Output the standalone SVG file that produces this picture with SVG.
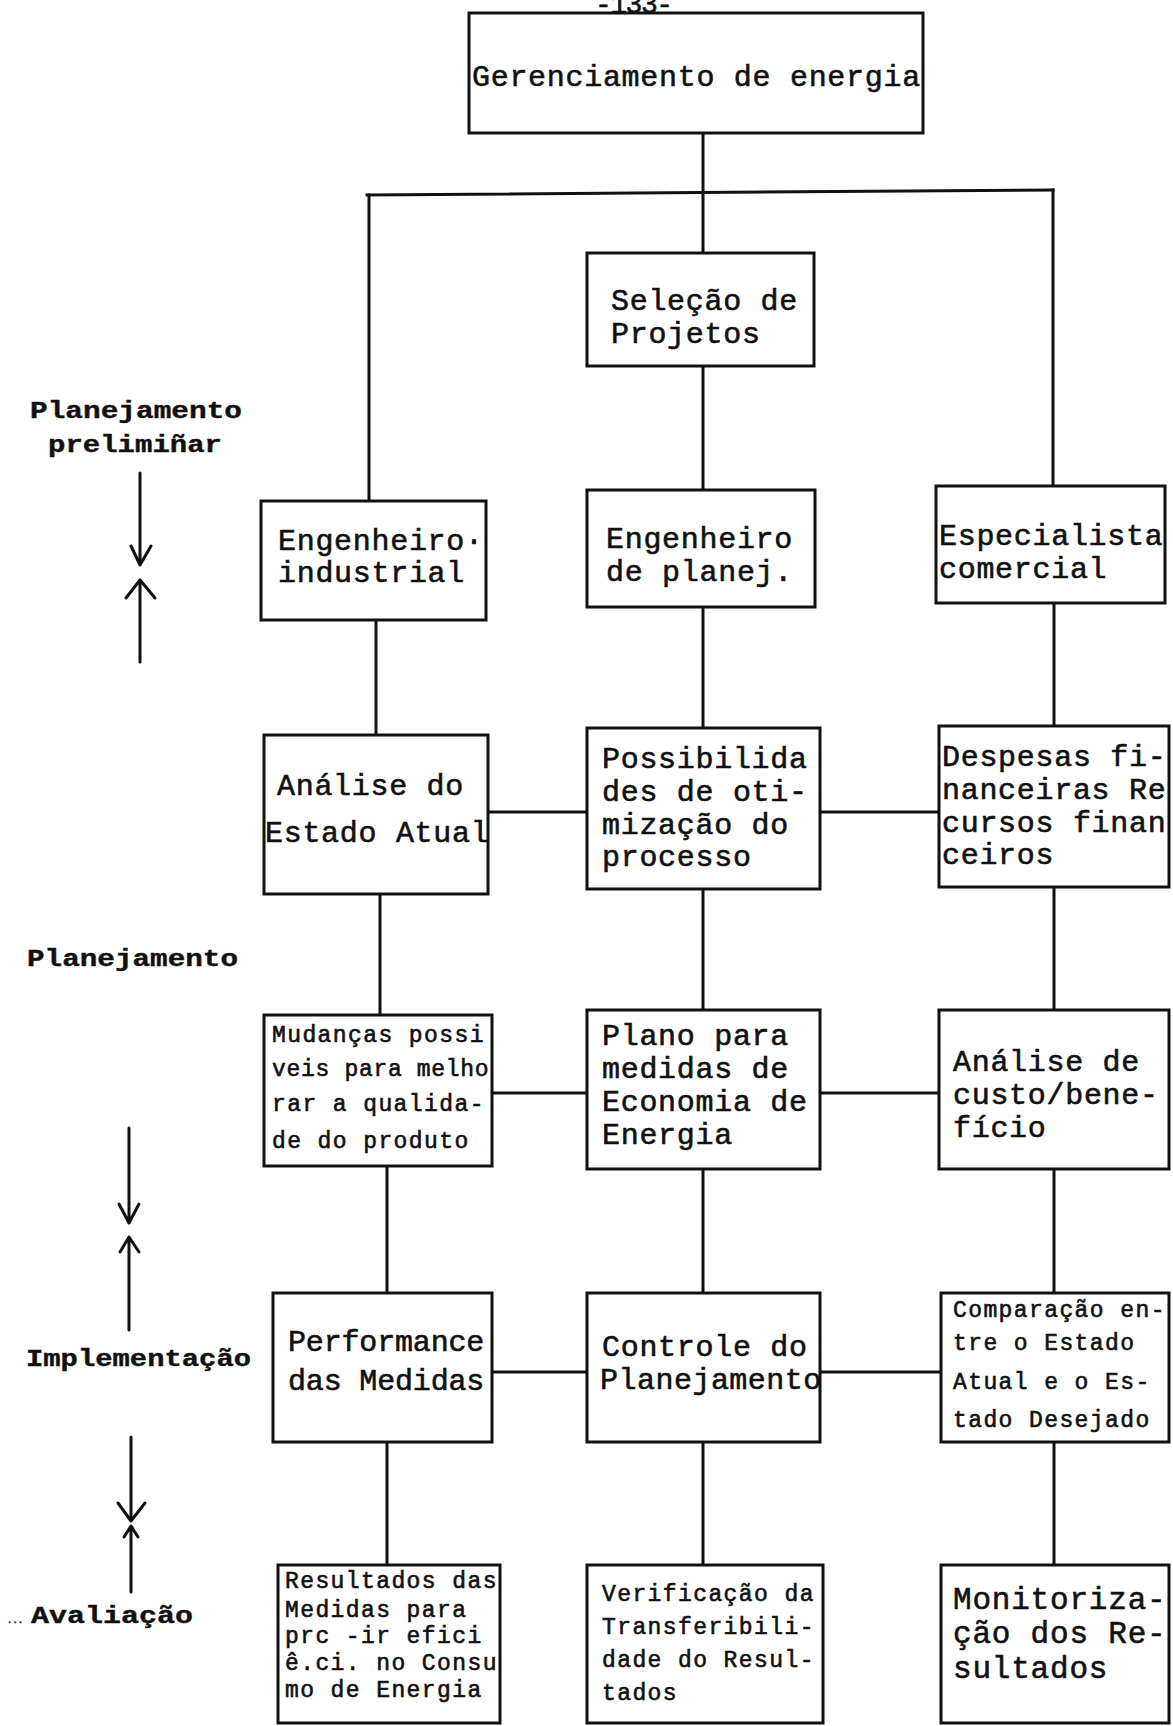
<svg xmlns="http://www.w3.org/2000/svg" width="1173" height="1726" viewBox="0 0 1173 1726">
  <style>
    .box { fill: #fff; stroke: #111; stroke-width: 3; }
    .wire { stroke: #111; stroke-width: 3; fill: none; stroke-linecap: square; }
    .arr { stroke: #111; stroke-width: 3; fill: none; stroke-linecap: round; stroke-linejoin: round; }
    .t { font-family: "Liberation Mono", "DejaVu Sans Mono", monospace; fill: #111; stroke: #111; stroke-width: 0.6px; }
    .big { font-size: 30px; letter-spacing: 0.7px; }
    .mid { font-size: 31px; letter-spacing: 0.8px; }
    .small { font-size: 23px; letter-spacing: 1.4px; }
    .lab { font-family: "Liberation Mono", "DejaVu Sans Mono", monospace; font-weight: bold; font-size: 23px; fill: #111; stroke: #111; stroke-width: 0.4px; }
  </style>
  <rect width="1173" height="1726" fill="#fff"/>

  <!-- page number -->
  <text class="t" x="595" y="13" font-size="28" textLength="78">-133-</text>

  <!-- connectors -->
  <g id="connectors">
    <path class="wire" d="M703 133 V193"/>
    <path class="wire" d="M367 195 L1053 190"/>
    <path class="wire" d="M369 195 V501"/>
    <path class="wire" d="M703 193 V253"/>
    <path class="wire" d="M703 366 V490"/>
    <path class="wire" d="M1053 190 V486"/>

    <path class="wire" d="M376 620 V735"/>
    <path class="wire" d="M703 607 V728"/>
    <path class="wire" d="M1054 603 V726"/>

    <path class="wire" d="M380 894 V1015"/>
    <path class="wire" d="M703 889 V1010"/>
    <path class="wire" d="M1054 887 V1010"/>

    <path class="wire" d="M387 1166 V1293"/>
    <path class="wire" d="M703 1169 V1293"/>
    <path class="wire" d="M1054 1169 V1293"/>

    <path class="wire" d="M387 1442 V1565"/>
    <path class="wire" d="M703 1442 V1565"/>
    <path class="wire" d="M1054 1442 V1565"/>

    <path class="wire" d="M488 812 H587 M820 812 H939"/>
    <path class="wire" d="M492 1093 H587 M820 1093 H939"/>
    <path class="wire" d="M492 1372 H587 M820 1372 H941"/>
  </g>

  <!-- nodes -->
  <g id="gerenciamento">
    <rect class="box" x="469" y="13" width="454" height="120"/>
    <text class="t big" x="472" y="86">Gerenciamento de energia</text>
  </g>
  <g id="selecao">
    <rect class="box" x="587" y="253" width="227" height="113"/>
    <text class="t big" x="611" y="310">Seleção de</text>
    <text class="t big" x="611" y="343">Projetos</text>
  </g>

  <g id="eng-industrial">
    <rect class="box" x="261" y="501" width="225" height="119"/>
    <text class="t big" x="278" y="550">Engenheiro·</text>
    <text class="t big" x="278" y="582">industrial</text>
  </g>
  <g id="eng-planej">
    <rect class="box" x="587" y="490" width="228" height="117"/>
    <text class="t big" x="606" y="548">Engenheiro</text>
    <text class="t big" x="606" y="581">de planej.</text>
  </g>
  <g id="especialista">
    <rect class="box" x="936" y="486" width="229" height="117"/>
    <text class="t big" x="939" y="545">Especialista</text>
    <text class="t big" x="939" y="578">comercial</text>
  </g>

  <g id="analise-estado">
    <rect class="box" x="264" y="735" width="224" height="159"/>
    <text class="t big" x="277" y="795">Análise do</text>
    <text class="t big" x="265" y="842">Estado Atual</text>
  </g>
  <g id="possibilidades">
    <rect class="box" x="587" y="728" width="233" height="161"/>
    <text class="t big" x="602" y="768">Possibilida</text>
    <text class="t big" x="602" y="801">des de oti-</text>
    <text class="t big" x="602" y="834">mização do</text>
    <text class="t big" x="602" y="866">processo</text>
  </g>
  <g id="despesas">
    <rect class="box" x="939" y="726" width="230" height="161"/>
    <text class="t big" x="942" y="766">Despesas fi-</text>
    <text class="t big" x="942" y="799">nanceiras Re</text>
    <text class="t big" x="942" y="832">cursos finan</text>
    <text class="t big" x="942" y="864">ceiros</text>
  </g>

  <g id="mudancas">
    <rect class="box" x="264" y="1015" width="228" height="151"/>
    <text class="t small" x="272" y="1042">Mudanças possi</text>
    <text class="t small" x="272" y="1076" textLength="218">veis para melho</text>
    <text class="t small" x="272" y="1111">rar a qualida-</text>
    <text class="t small" x="272" y="1148">de do produto</text>
  </g>
  <g id="plano">
    <rect class="box" x="587" y="1010" width="233" height="159"/>
    <text class="t big" x="602" y="1045">Plano para</text>
    <text class="t big" x="602" y="1078">medidas de</text>
    <text class="t big" x="602" y="1111">Economia de</text>
    <text class="t big" x="602" y="1144">Energia</text>
  </g>
  <g id="analise-custo">
    <rect class="box" x="939" y="1010" width="230" height="159"/>
    <text class="t big" x="953" y="1071">Análise de</text>
    <text class="t big" x="953" y="1104">custo/bene-</text>
    <text class="t big" x="953" y="1137">fício</text>
  </g>

  <g id="performance">
    <rect class="box" x="273" y="1293" width="219" height="149"/>
    <text class="t big" x="288" y="1351" textLength="197">Performance</text>
    <text class="t big" x="288" y="1390" textLength="197">das Medidas</text>
  </g>
  <g id="controle">
    <rect class="box" x="587" y="1293" width="233" height="149"/>
    <text class="t big" x="602" y="1356">Controle do</text>
    <text class="t big" x="600" y="1389" textLength="222">Planejamento</text>
  </g>
  <g id="comparacao">
    <rect class="box" x="941" y="1293" width="228" height="149"/>
    <text class="t small" x="953" y="1317">Comparação en-</text>
    <text class="t small" x="953" y="1350">tre o Estado</text>
    <text class="t small" x="953" y="1389">Atual e o Es-</text>
    <text class="t small" x="953" y="1427">tado Desejado</text>
  </g>

  <g id="resultados">
    <rect class="box" x="278" y="1565" width="222" height="158"/>
    <text class="t small" x="285" y="1588">Resultados das</text>
    <text class="t small" x="285" y="1617">Medidas para</text>
    <text class="t small" x="285" y="1643">prc  -ir efici</text>
    <text class="t small" x="285" y="1670">ê.ci. no Consu</text>
    <text class="t small" x="285" y="1697">mo de Energia</text>
  </g>
  <g id="verificacao">
    <rect class="box" x="587" y="1565" width="236" height="158"/>
    <text class="t small" x="602" y="1601">Verificação da</text>
    <text class="t small" x="602" y="1634">Transferibili-</text>
    <text class="t small" x="602" y="1667">dade do Resul-</text>
    <text class="t small" x="602" y="1700">tados</text>
  </g>
  <g id="monitorizacao">
    <rect class="box" x="941" y="1565" width="228" height="158"/>
    <text class="t mid" x="953" y="1609">Monitoriza-</text>
    <text class="t mid" x="953" y="1643">ção dos Re-</text>
    <text class="t mid" x="953" y="1678">sultados</text>
  </g>

  <!-- phase labels on the left -->
  <g id="fases">
    <text class="lab" x="30" y="418" textLength="212" lengthAdjust="spacingAndGlyphs">Planejamento</text>
    <text class="lab" x="48" y="452" textLength="174" lengthAdjust="spacingAndGlyphs">prelimiñar</text>
    <text class="lab" x="27" y="966" textLength="211" lengthAdjust="spacingAndGlyphs">Planejamento</text>
    <text class="lab" x="26" y="1366" textLength="225" lengthAdjust="spacingAndGlyphs">Implementação</text>
    <text class="lab" y="1623"><tspan x="7" font-size="9">...</tspan><tspan x="31" textLength="162" lengthAdjust="spacingAndGlyphs">Avaliação</tspan></text>
  </g>

  <!-- phase boundary arrows -->
  <g id="phase-arrows">
    <path class="arr" d="M140 473 V564 M131 546 L140 565 L151 546"/>
    <path class="arr" d="M140 581 V662 M126 598 L140 580 L155 598"/>
    <path class="arr" d="M129 1128 V1222 M119 1204 L129 1223 L139 1204"/>
    <path class="arr" d="M129 1238 V1330 M120 1252 L129 1237 L139 1252"/>
    <path class="arr" d="M131 1437 V1521 M118 1503 L131 1521 L145 1503"/>
    <path class="arr" d="M131 1526 V1592 M124 1537 L131 1526 L138 1537"/>
  </g>
</svg>
